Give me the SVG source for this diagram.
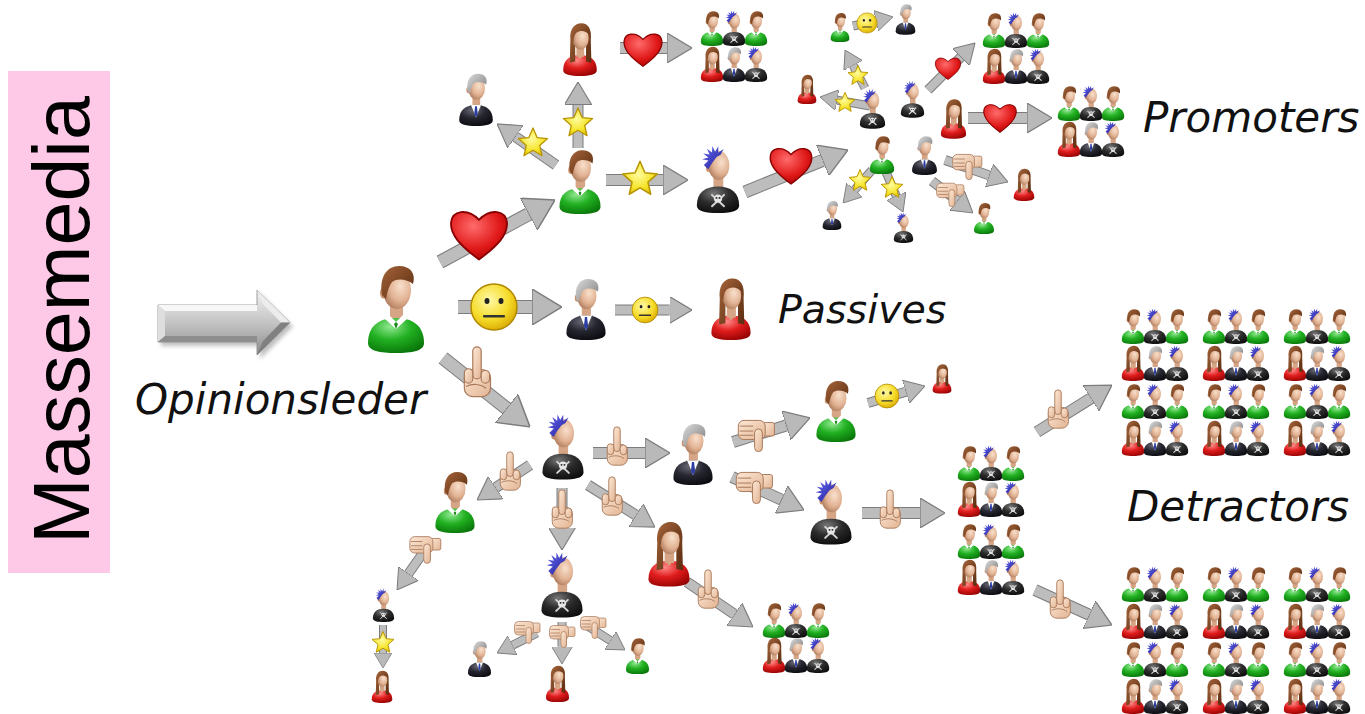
<svg xmlns="http://www.w3.org/2000/svg" xmlns:xlink="http://www.w3.org/1999/xlink" width="1365" height="714" viewBox="0 0 1365 714">
<style>
  .lbl { font-family: "DejaVu Sans", Verdana, sans-serif; font-style: italic; font-size: 42px; fill: #111; }
  .o { stroke: #7c7c7c; fill: none; }
  .i { stroke: #bdbdbd; fill: none; marker-end: url(#ah); }
</style>
<defs>
  <radialGradient id="gSkin" cx="0.62" cy="0.4" r="0.7">
    <stop offset="0" stop-color="#f8e0cc"/><stop offset="0.55" stop-color="#e2b394"/><stop offset="1" stop-color="#a87456"/>
  </radialGradient>
  <radialGradient id="gGreen" cx="0.4" cy="0.25" r="0.85">
    <stop offset="0" stop-color="#8fe88f"/><stop offset="0.45" stop-color="#21b021"/><stop offset="1" stop-color="#066e06"/>
  </radialGradient>
  <radialGradient id="gRed" cx="0.4" cy="0.25" r="0.85">
    <stop offset="0" stop-color="#ff8a8a"/><stop offset="0.45" stop-color="#e01c1c"/><stop offset="1" stop-color="#8c0000"/>
  </radialGradient>
  <radialGradient id="gBlack" cx="0.4" cy="0.25" r="0.85">
    <stop offset="0" stop-color="#777"/><stop offset="0.45" stop-color="#2b2b2b"/><stop offset="1" stop-color="#080808"/>
  </radialGradient>
  <radialGradient id="gSuit" cx="0.4" cy="0.25" r="0.85">
    <stop offset="0" stop-color="#6a6a78"/><stop offset="0.45" stop-color="#262630"/><stop offset="1" stop-color="#07070c"/>
  </radialGradient>
  <linearGradient id="gBrown" x1="0" y1="0" x2="1" y2="1">
    <stop offset="0" stop-color="#a4643a"/><stop offset="1" stop-color="#5a2c10"/>
  </linearGradient>
  <linearGradient id="gGray" x1="0" y1="0" x2="1" y2="1">
    <stop offset="0" stop-color="#dcdcdc"/><stop offset="1" stop-color="#7a7a7a"/>
  </linearGradient>
  <linearGradient id="gBlue" x1="0" y1="0" x2="1" y2="1">
    <stop offset="0" stop-color="#6a6af0"/><stop offset="1" stop-color="#1a1a96"/>
  </linearGradient>
  <radialGradient id="gHeart" cx="0.4" cy="0.3" r="0.8">
    <stop offset="0" stop-color="#ff6b6b"/><stop offset="0.6" stop-color="#e01818"/><stop offset="1" stop-color="#a00000"/>
  </radialGradient>
  <radialGradient id="gStar" cx="0.45" cy="0.4" r="0.7">
    <stop offset="0" stop-color="#fffca0"/><stop offset="0.6" stop-color="#f5e428"/><stop offset="1" stop-color="#d8b800"/>
  </radialGradient>
  <radialGradient id="gSmile" cx="0.4" cy="0.35" r="0.7">
    <stop offset="0" stop-color="#fff9a8"/><stop offset="0.6" stop-color="#f6dc2a"/><stop offset="1" stop-color="#d8a800"/>
  </radialGradient>
  <linearGradient id="gHand" x1="0" y1="0" x2="1" y2="1">
    <stop offset="0" stop-color="#fde8d6"/><stop offset="1" stop-color="#e2b493"/>
  </linearGradient>
  <linearGradient id="gBig" x1="0" y1="0" x2="0" y2="1">
    <stop offset="0" stop-color="#f2f2f2"/><stop offset="0.5" stop-color="#c4c4c4"/><stop offset="1" stop-color="#8c8c8c"/>
  </linearGradient>
  <filter id="soft" x="-20%" y="-20%" width="140%" height="140%">
    <feGaussianBlur stdDeviation="2"/>
  </filter>

  <marker id="ah" viewBox="0 0 10 12" refX="0" refY="6" markerWidth="2.5" markerHeight="3" orient="auto" markerUnits="strokeWidth">
    <path d="M0 0L10 6L0 12Z" fill="#b9b9b9" stroke="#7c7c7c" stroke-width="0.5"/>
  </marker>

  <!-- people -->
  <symbol id="pMan" viewBox="0 0 60 90">
    <rect x="24" y="40" width="13" height="18" fill="#d6a585"/>
    <path d="M2 80C2 63 13 55 30 55C47 55 58 63 58 80C58 88 46 90 30 90C14 90 2 88 2 80Z" fill="url(#gGreen)"/>
    <path d="M19 56L30 66L41 56L38 51L30 59L22 51Z" fill="#fff"/>
    <path d="M28 61L30 66L32 61L30 59Z" fill="#1a8a1a"/>
    <ellipse cx="17.5" cy="30" rx="3.5" ry="5.5" fill="#c99070"/>
    <ellipse cx="31" cy="27" rx="14" ry="19" fill="url(#gSkin)"/>
    <path d="M16 32C13 14 21 3 33 3C45 3 50 11 47 21C41 16 31 15 26 19C23 23 21 29 20 36Z" fill="url(#gBrown)"/>
  </symbol>
  <symbol id="pSuit" viewBox="0 0 60 90">
    <rect x="24" y="40" width="13" height="18" fill="#d6a585"/>
    <path d="M2 80C2 63 13 55 30 55C47 55 58 63 58 80C58 88 46 90 30 90C14 90 2 88 2 80Z" fill="url(#gSuit)"/>
    <path d="M21 55L30 76L39 55Z" fill="#fff"/>
    <path d="M28.5 57L31.5 57L33 70L30 76L27 70Z" fill="#2c3ea6"/>
    <path d="M21 55L27 70M39 55L33 70" stroke="#555" stroke-width="1.2"/>
    <ellipse cx="17.5" cy="30" rx="3.5" ry="5.5" fill="#c99070"/>
    <ellipse cx="31" cy="27" rx="14" ry="19" fill="url(#gSkin)"/>
    <path d="M16 32C13 14 21 3 33 3C45 3 50 11 47 21C41 16 31 15 26 19C23 23 21 29 20 36Z" fill="url(#gGray)"/>
  </symbol>
  <symbol id="pPunk" viewBox="0 0 60 90">
    <rect x="24" y="40" width="13" height="18" fill="#d6a585"/>
    <path d="M2 80C2 63 13 55 30 55C47 55 58 63 58 80C58 88 46 90 30 90C14 90 2 88 2 80Z" fill="url(#gBlack)"/>
    <path d="M22 66L38 81M38 66L22 81" stroke="#d8d8d8" stroke-width="2.6" stroke-linecap="round"/>
    <circle cx="30" cy="71" r="5.5" fill="#e6e6e6"/>
    <circle cx="28" cy="70" r="1.3" fill="#222"/><circle cx="32" cy="70" r="1.3" fill="#222"/>
    <ellipse cx="17.5" cy="30" rx="3.5" ry="5.5" fill="#c99070"/>
    <ellipse cx="31" cy="27" rx="14" ry="19" fill="url(#gSkin)"/>
    <path d="M17 32L11.3 26.5L17.4 20.6L9 18.9L17.2 16.4L10.5 11.1L18.9 12.5L15.3 4.8L22.1 9.9L22.5 1.4L26.2 9L30.4 1.6L30.3 10.1L37.4 5.4L33.4 12.8L28 16L22 24Z" fill="url(#gBlue)"/>
  </symbol>
  <symbol id="pWoman" viewBox="0 0 60 90">
    <path d="M2 80C2 63 13 55 30 55C47 55 58 63 58 80C58 88 46 90 30 90C14 90 2 88 2 80Z" fill="url(#gRed)"/>
    <path d="M14 30C12 10 22 2 32 2C44 2 50 12 48 30L49 68L40 66L40 40L22 40L22 66L13 68Z" fill="url(#gBrown)"/>
    <rect x="24" y="40" width="13" height="18" fill="#d6a585"/>
    <path d="M24 55L30 62L36 55Z" fill="#d6a585"/>
    <ellipse cx="31" cy="27" rx="13.5" ry="19" fill="url(#gSkin)"/>
    <path d="M17 30C16 12 24 5 32 5C42 5 47 12 46 22C40 14 30 13 24 18C21 21 19 26 19 34Z" fill="url(#gBrown)"/>
  </symbol>

  <!-- emblems carried on the arrows -->
  <symbol id="heart" viewBox="0 0 100 90">
    <path d="M50 86C20 64 3 46 5 26C7 8 30 2 50 22C70 2 93 8 95 26C97 46 80 64 50 86Z" fill="url(#gHeart)" stroke="#8a0000" stroke-width="3"/>
  </symbol>
  <symbol id="star" viewBox="0 0 100 100">
    <polygon points="50,6 62.93,36.2 95.65,39.17 70.92,60.8 78.21,92.83 50,76 21.79,92.83 29.08,60.8 4.35,39.17 37.07,36.2" fill="url(#gStar)" stroke="#b89400" stroke-width="4" stroke-linejoin="round"/>
  </symbol>
  <symbol id="smile" viewBox="0 0 100 100">
    <circle cx="50" cy="50" r="46" fill="url(#gSmile)" stroke="#b08800" stroke-width="3"/>
    <ellipse cx="36" cy="38" rx="5" ry="6" fill="#222"/>
    <ellipse cx="64" cy="38" rx="5" ry="6" fill="#222"/>
    <rect x="28" y="66" width="44" height="5" rx="2" fill="#333"/>
  </symbol>
  <symbol id="finger" viewBox="0 0 40 64">
    <g fill="url(#gHand)" stroke="#a8795a" stroke-width="1.4">
      <rect x="5" y="28" width="31" height="32" rx="10"/>
      <rect x="15" y="1" width="10" height="38" rx="5"/>
      <rect x="5" y="27" width="10" height="17" rx="5"/>
      <rect x="25" y="29" width="10" height="15" rx="5"/>
      <path d="M7 48C15 44 25 45 31 50" fill="none"/>
    </g>
  </symbol>
  <symbol id="thumb" viewBox="0 0 56 48">
    <g fill="url(#gHand)" stroke="#a8795a" stroke-width="1.4">
      <rect x="38" y="5" width="16" height="19" rx="3"/>
      <rect x="3" y="2" width="38" height="27" rx="8"/>
      <path d="M5 10H24M5 17H24M5 23H24" fill="none"/>
      <rect x="26" y="14" width="11" height="32" rx="5.5"/>
    </g>
  </symbol>

  <!-- crowd rows -->
  <g id="rowA">
    <use href="#pMan" x="0" y="0" width="24" height="36"/>
    <use href="#pPunk" x="22" y="0" width="24" height="36"/>
    <use href="#pMan" x="44" y="0" width="24" height="36"/>
  </g>
  <g id="rowB">
    <use href="#pWoman" x="0" y="0" width="24" height="36"/>
    <use href="#pSuit" x="22" y="0" width="24" height="36"/>
    <use href="#pPunk" x="44" y="0" width="24" height="36"/>
  </g>
  <g id="crowd12">
    <use href="#rowA" y="0"/><use href="#rowB" y="37"/><use href="#rowA" y="75"/><use href="#rowB" y="112"/>
  </g>
</defs>

<rect width="1365" height="714" fill="#fff"/>

<!-- mass media panel -->
<g id="massemedia">
  <rect x="8" y="71" width="102" height="502" fill="#fdc9e6"/>
  <text transform="translate(89,544) rotate(-90)" font-family="'Liberation Sans', Arial, sans-serif" font-size="79" fill="#000">Massemedia</text>
</g>

<!-- broadcast arrow -->
<g id="media-arrow">
  <path d="M161 309H260V294L293 326.5L260 359V346H161Z" fill="#000" opacity="0.25" filter="url(#soft)"/>
  <path d="M158 305H257V290L290 322.5L257 355V342H158Z" fill="url(#gBig)" stroke="#8a8a8a" stroke-width="0.8"/>
  <polygon points="158,305 257,305 257,311 165,311" fill="#f7f7f7"/>
  <polygon points="158,305 165,311 165,336 158,342" fill="#dedede"/>
  <polygon points="158,342 165,336 257,336 257,342" fill="#8e8e8e"/>
  <polygon points="257,290 290,322.5 281,322.5 263,304" fill="#ececec"/>
  <polygon points="290,322.5 257,355 263,341 281,322.5" fill="#808080"/>
</g>

<g id="labels">
  <text class="lbl" x="135" y="414">Opinionsleder</text>
  <text class="lbl" x="778" y="323" style="font-size:39.5px">Passives</text>
  <text class="lbl" x="1143" y="132">Promoters</text>
  <text class="lbl" x="1127" y="521">Detractors</text>
</g>

<!-- connectors with their emblems -->
<g id="connectors">
  <!-- leader branches -->
  <line class="o" x1="440" y1="262" x2="528.6" y2="214.2" stroke-width="14"/><line class="i" x1="440" y1="262" x2="528.6" y2="214.2" stroke-width="12"/>
  <use href="#heart" x="448" y="206" width="62" height="56"/>
  <line class="o" x1="458" y1="307" x2="532" y2="307" stroke-width="14"/><line class="i" x1="458" y1="307" x2="532" y2="307" stroke-width="12"/>
  <use href="#smile" x="469" y="282" width="50" height="50"/>
  <line class="o" x1="443" y1="358" x2="506.5" y2="408.3" stroke-width="14"/><line class="i" x1="443" y1="358" x2="506.5" y2="408.3" stroke-width="12"/>
  <use href="#finger" x="460" y="346" width="34" height="54"/>

  <!-- promoter branch -->
  <line class="o" x1="606" y1="180" x2="663" y2="180" stroke-width="12"/><line class="i" x1="606" y1="180" x2="663" y2="180" stroke-width="10"/>
  <use href="#star" x="621" y="159" width="38" height="38"/>
  <line class="o" x1="578" y1="148" x2="578" y2="104.5" stroke-width="11"/><line class="i" x1="578" y1="148" x2="578" y2="104.5" stroke-width="9"/>
  <use href="#star" x="562" y="106" width="32" height="32"/>
  <line class="o" x1="556" y1="165" x2="515.5" y2="136.8" stroke-width="11"/><line class="i" x1="556" y1="165" x2="515.5" y2="136.8" stroke-width="9"/>
  <use href="#star" x="517" y="126" width="32" height="32"/>
  <line class="o" x1="620" y1="48" x2="667" y2="48" stroke-width="12"/><line class="i" x1="620" y1="48" x2="667" y2="48" stroke-width="10"/>
  <use href="#heart" x="622" y="30" width="42" height="38"/>
  <line class="o" x1="745" y1="192" x2="822.5" y2="160.4" stroke-width="13"/><line class="i" x1="745" y1="192" x2="822.5" y2="160.4" stroke-width="11"/>
  <use href="#heart" x="768" y="144" width="46" height="42"/>

  <line class="o" x1="872" y1="170" x2="854.6" y2="189.9" stroke-width="9"/><line class="i" x1="872" y1="170" x2="854.6" y2="189.9" stroke-width="7"/>
  <use href="#star" x="848" y="168" width="24" height="24"/>
  <line class="o" x1="886" y1="172" x2="896.2" y2="195.9" stroke-width="9"/><line class="i" x1="886" y1="172" x2="896.2" y2="195.9" stroke-width="7"/>
  <use href="#star" x="880" y="175" width="24" height="24"/>
  <line class="o" x1="945" y1="160" x2="989.1" y2="175.4" stroke-width="10"/><line class="i" x1="945" y1="160" x2="989.1" y2="175.4" stroke-width="8"/>
  <use href="#thumb" x="951" y="153" width="32" height="28"/>
  <line class="o" x1="932" y1="181" x2="957.2" y2="200.7" stroke-width="10"/><line class="i" x1="932" y1="181" x2="957.2" y2="200.7" stroke-width="8"/>
  <use href="#thumb" x="935" y="182" width="30" height="26"/>
  <line class="o" x1="870" y1="106" x2="837.2" y2="100.1" stroke-width="9"/><line class="i" x1="870" y1="106" x2="837.2" y2="100.1" stroke-width="7"/>
  <use href="#star" x="834" y="91" width="22" height="22"/>
  <line class="o" x1="865" y1="88" x2="853.2" y2="65.5" stroke-width="9"/><line class="i" x1="865" y1="88" x2="853.2" y2="65.5" stroke-width="7"/>
  <use href="#star" x="847" y="64" width="22" height="22"/>
  <line class="o" x1="853" y1="26" x2="875.9" y2="20.8" stroke-width="9"/><line class="i" x1="853" y1="26" x2="875.9" y2="20.8" stroke-width="7"/>
  <use href="#smile" x="856" y="12" width="22" height="22"/>
  <line class="o" x1="928" y1="90" x2="960.9" y2="57.1" stroke-width="10"/><line class="i" x1="928" y1="90" x2="960.9" y2="57.1" stroke-width="8"/>
  <use href="#heart" x="934" y="55" width="28" height="26"/>
  <line class="o" x1="968" y1="118" x2="1027" y2="118" stroke-width="12"/><line class="i" x1="968" y1="118" x2="1027" y2="118" stroke-width="10"/>
  <use href="#heart" x="982" y="101" width="36" height="33"/>

  <!-- passive branch -->
  <line class="o" x1="615" y1="310" x2="669.5" y2="310" stroke-width="11"/><line class="i" x1="615" y1="310" x2="669.5" y2="310" stroke-width="9"/>
  <use href="#smile" x="631" y="296" width="28" height="28"/>

  <!-- detractor branch -->
  <line class="o" x1="593" y1="453" x2="645" y2="453" stroke-width="12"/><line class="i" x1="593" y1="453" x2="645" y2="453" stroke-width="10"/>
  <use href="#finger" x="604" y="426" width="26" height="42"/>
  <line class="o" x1="733" y1="442" x2="786.1" y2="425.4" stroke-width="12"/><line class="i" x1="733" y1="442" x2="786.1" y2="425.4" stroke-width="10"/>
  <use href="#thumb" x="736" y="419" width="40" height="34"/>
  <line class="o" x1="868" y1="403" x2="905.8" y2="391.7" stroke-width="10"/><line class="i" x1="868" y1="403" x2="905.8" y2="391.7" stroke-width="8"/>
  <use href="#smile" x="874" y="383" width="26" height="26"/>
  <line class="o" x1="732" y1="477" x2="781.3" y2="499.6" stroke-width="12"/><line class="i" x1="732" y1="477" x2="781.3" y2="499.6" stroke-width="10"/>
  <use href="#thumb" x="734" y="471" width="40" height="34"/>
  <line class="o" x1="862" y1="513" x2="920" y2="513" stroke-width="12"/><line class="i" x1="862" y1="513" x2="920" y2="513" stroke-width="10"/>
  <use href="#finger" x="877" y="488" width="26" height="44"/>
  <line class="o" x1="1037" y1="432" x2="1090.8" y2="398.3" stroke-width="12"/><line class="i" x1="1037" y1="432" x2="1090.8" y2="398.3" stroke-width="10"/>
  <use href="#finger" x="1045" y="388" width="26" height="44"/>
  <line class="o" x1="1035" y1="590" x2="1089.2" y2="614.7" stroke-width="12"/><line class="i" x1="1035" y1="590" x2="1089.2" y2="614.7" stroke-width="10"/>
  <use href="#finger" x="1047" y="578" width="26" height="44"/>
  <line class="o" x1="530" y1="465" x2="495.8" y2="487.6" stroke-width="11"/><line class="i" x1="530" y1="465" x2="495.8" y2="487.6" stroke-width="9"/>
  <use href="#finger" x="497" y="451" width="26" height="42"/>
  <line class="o" x1="432" y1="540" x2="408.5" y2="573.6" stroke-width="10"/><line class="i" x1="432" y1="540" x2="408.5" y2="573.6" stroke-width="8"/>
  <use href="#thumb" x="408" y="535" width="34" height="30"/>
  <line class="o" x1="383" y1="625" x2="383" y2="653" stroke-width="8"/><line class="i" x1="383" y1="625" x2="383" y2="653" stroke-width="6"/>
  <use href="#star" x="371" y="630" width="24" height="24"/>
  <line class="o" x1="562" y1="488" x2="562" y2="527.5" stroke-width="11"/><line class="i" x1="562" y1="488" x2="562" y2="527.5" stroke-width="9"/>
  <use href="#finger" x="549" y="489" width="26" height="42"/>
  <line class="o" x1="588" y1="485" x2="635.9" y2="515.1" stroke-width="11"/><line class="i" x1="588" y1="485" x2="635.9" y2="515.1" stroke-width="9"/>
  <use href="#finger" x="599" y="476" width="26" height="42"/>
  <line class="o" x1="537" y1="633" x2="512.6" y2="645.2" stroke-width="9"/><line class="i" x1="537" y1="633" x2="512.6" y2="645.2" stroke-width="7"/>
  <use href="#thumb" x="513" y="620" width="28" height="25"/>
  <line class="o" x1="562" y1="622" x2="562" y2="646.5" stroke-width="9"/><line class="i" x1="562" y1="622" x2="562" y2="646.5" stroke-width="7"/>
  <use href="#thumb" x="548" y="624" width="28" height="25"/>
  <line class="o" x1="583" y1="623" x2="610.3" y2="640.5" stroke-width="9"/><line class="i" x1="583" y1="623" x2="610.3" y2="640.5" stroke-width="7"/>
  <use href="#thumb" x="579" y="615" width="28" height="25"/>
  <line class="o" x1="687" y1="582" x2="734.4" y2="614.3" stroke-width="11"/><line class="i" x1="687" y1="582" x2="734.4" y2="614.3" stroke-width="9"/>
  <use href="#finger" x="695" y="569" width="26" height="42"/>
</g>

<!-- opinion leader -->
<g id="leader"><use href="#pMan" x="366" y="263" width="60" height="90"/></g>

<!-- promoters -->
<g id="n-a1"><use href="#pMan" x="558" y="148" width="44" height="66"/></g>
<g id="n-a2"><use href="#pWoman" x="562" y="22" width="36" height="54"/></g>
<g id="n-a3"><use href="#pSuit" x="458" y="72" width="36" height="54"/></g>
<g id="n-a4"><use href="#pPunk" x="695" y="145" width="46" height="68"/></g>
<g id="n-c1"><use href="#pMan" x="869" y="135" width="26" height="39"/></g>
<g id="n-c2"><use href="#pSuit" x="911" y="135" width="27" height="40"/></g>
<g id="n-c3"><use href="#pSuit" x="822" y="200" width="20" height="30"/></g>
<g id="n-c4"><use href="#pPunk" x="893" y="212" width="21" height="31"/></g>
<g id="n-c5"><use href="#pWoman" x="1013" y="168" width="22" height="33"/></g>
<g id="n-c6"><use href="#pMan" x="973" y="202" width="22" height="32"/></g>
<g id="n-c7"><use href="#pPunk" x="859" y="88" width="27" height="41"/></g>
<g id="n-c8"><use href="#pWoman" x="797" y="74" width="20" height="30"/></g>
<g id="n-c9"><use href="#pMan" x="830" y="12" width="20" height="30"/></g>
<g id="n-c10"><use href="#pSuit" x="895" y="3" width="21" height="32"/></g>
<g id="n-c11"><use href="#pPunk" x="900" y="80" width="25" height="38"/></g>
<g id="n-c12"><use href="#pWoman" x="940" y="98" width="27" height="41"/></g>
<g id="crowd-a"><use href="#rowA" x="700" y="10"/><use href="#rowB" x="700" y="46"/></g>
<g id="crowd-b"><use href="#rowA" x="982" y="12"/><use href="#rowB" x="982" y="48"/></g>
<g id="crowd-promoters"><use href="#rowA" x="1057" y="85"/><use href="#rowB" x="1057" y="121"/></g>

<!-- passives -->
<g id="n-p1"><use href="#pSuit" x="565" y="277" width="42" height="63"/></g>
<g id="n-p2"><use href="#pWoman" x="710" y="277" width="42" height="63"/></g>

<!-- detractors -->
<g id="n-b1"><use href="#pPunk" x="541" y="413" width="44" height="67"/></g>
<g id="n-b2"><use href="#pSuit" x="672" y="422" width="42" height="63"/></g>
<g id="n-b3"><use href="#pMan" x="815" y="379" width="42" height="63"/></g>
<g id="n-b4"><use href="#pWoman" x="932" y="363" width="20" height="31"/></g>
<g id="n-b5"><use href="#pPunk" x="809" y="478" width="44" height="67"/></g>
<g id="n-b6"><use href="#pMan" x="434" y="470" width="42" height="63"/></g>
<g id="n-b7"><use href="#pPunk" x="372" y="588" width="23" height="34"/></g>
<g id="n-b8"><use href="#pWoman" x="371" y="670" width="22" height="33"/></g>
<g id="n-b9"><use href="#pPunk" x="540" y="551" width="44" height="67"/></g>
<g id="n-b10"><use href="#pSuit" x="467" y="640" width="25" height="37"/></g>
<g id="n-b11"><use href="#pWoman" x="545" y="665" width="25" height="37"/></g>
<g id="n-b12"><use href="#pMan" x="625" y="637" width="25" height="37"/></g>
<g id="n-b13"><use href="#pWoman" x="647" y="520" width="44" height="67"/></g>
<g id="crowd-c"><use href="#rowA" x="762" y="602"/><use href="#rowB" x="762" y="637"/></g>
<g id="crowd-mid"><use href="#rowA" x="957" y="445"/><use href="#rowB" x="957" y="481"/><use href="#rowA" x="957" y="523"/><use href="#rowB" x="957" y="559"/></g>
<g id="crowd-top">
  <use href="#crowd12" x="1121" y="308"/><use href="#crowd12" x="1202" y="308"/><use href="#crowd12" x="1283" y="308"/>
</g>
<g id="crowd-bottom">
  <use href="#crowd12" x="1121" y="566"/><use href="#crowd12" x="1202" y="566"/><use href="#crowd12" x="1283" y="566"/>
</g>
</svg>
